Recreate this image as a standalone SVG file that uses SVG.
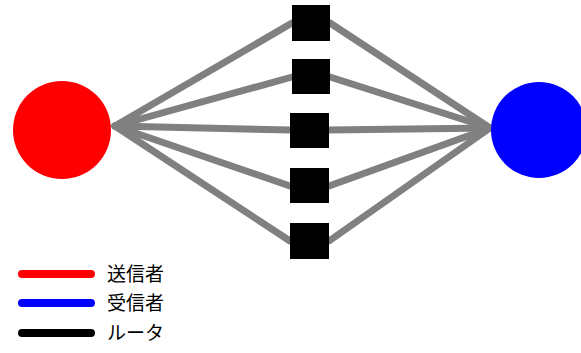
<svg xmlns="http://www.w3.org/2000/svg" width="581" height="353" viewBox="0 0 581 353">
<style>
.c{stroke:#808080;stroke-width:7;stroke-linecap:round;fill:none}
.r{fill:#000}
.lg{stroke-width:8;stroke-linecap:round}
.t{font-family:"Noto Sans CJK JP",sans-serif;font-size:19px;fill:#000}
</style>
<rect width="581" height="353" fill="#fff"/>
<g id="connectors">
<line class="c" x1="115" y1="126" x2="292" y2="23"/>
<line class="c" x1="115" y1="126" x2="292" y2="77"/>
<line class="c" x1="115" y1="126" x2="290" y2="130"/>
<line class="c" x1="115" y1="126" x2="290" y2="186"/>
<line class="c" x1="115" y1="126" x2="290" y2="241"/>
<line class="c" x1="330" y1="23" x2="490" y2="128"/>
<line class="c" x1="330" y1="77" x2="490" y2="128"/>
<line class="c" x1="329" y1="130" x2="490" y2="128"/>
<line class="c" x1="329" y1="186" x2="490" y2="128"/>
<line class="c" x1="329" y1="241" x2="490" y2="128"/>
</g>
<g id="sender"><circle cx="62" cy="130" r="49" fill="#f00"/></g>
<g id="receiver"><circle cx="539" cy="130" r="48" fill="#00f"/></g>
<g id="router1"><rect class="r" x="292" y="5" width="38" height="36"/></g>
<g id="router2"><rect class="r" x="292" y="59" width="38" height="35"/></g>
<g id="router3"><rect class="r" x="290" y="113" width="39" height="35"/></g>
<g id="router4"><rect class="r" x="290" y="168" width="39" height="35"/></g>
<g id="router5"><rect class="r" x="290" y="223" width="39" height="36"/></g>
<g id="legend">
<line class="lg" x1="22" y1="274" x2="91" y2="274" stroke="#f00"/>
<line class="lg" x1="22" y1="303" x2="91" y2="303" stroke="#00f"/>
<line class="lg" x1="22" y1="333" x2="91" y2="333" stroke="#000"/>
<text class="t" x="107" y="281">送信者</text>
<text class="t" x="107" y="310">受信者</text>
<text class="t" x="107" y="340">ルータ</text>
</g>
</svg>
